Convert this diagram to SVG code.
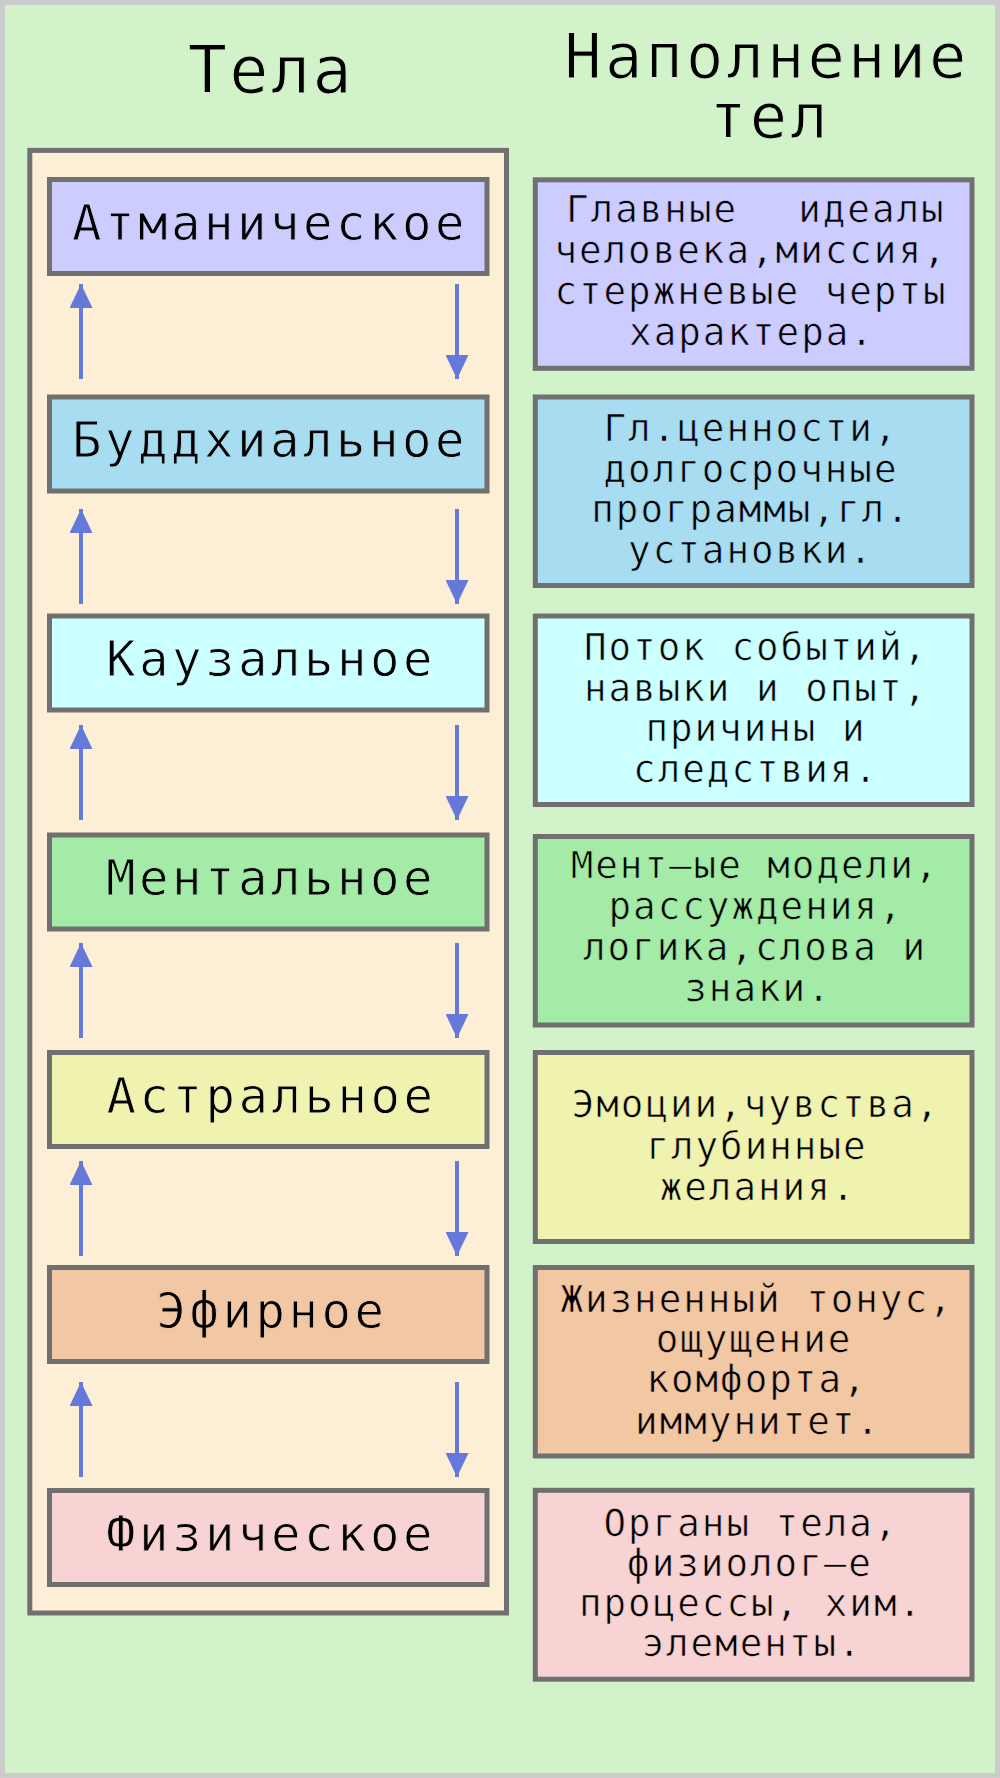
<svg xmlns="http://www.w3.org/2000/svg" width="1000" height="1778" viewBox="0 0 1000 1778">
<defs>
<style>
.box{stroke:#707070;stroke-width:5}
.lt{font-family:"DejaVu Sans Mono",monospace;font-size:49px;letter-spacing:3.5px;text-anchor:middle;fill:#000;stroke-width:0.9px}
.rt{font-family:"DejaVu Sans Mono",monospace;font-size:37.5px;letter-spacing:2px;text-anchor:middle;fill:#000;stroke-width:0.7px}
.hd{font-family:"DejaVu Sans Mono",monospace;letter-spacing:2.5px;text-anchor:middle;fill:#000;stroke:#d2f2ca;stroke-width:1px}
.ar{stroke:#6479d9;stroke-width:4;fill:none}
.c1{fill:#ccccff}.c2{fill:#a8dcf0}.c3{fill:#ccffff}.c4{fill:#a3eba6}.c5{fill:#f0f2b0}.c6{fill:#f1c7a4}.c7{fill:#f8d3d3}
.g1 text{stroke:#ccccff}.g2 text{stroke:#a8dcf0}.g3 text{stroke:#ccffff}.g4 text{stroke:#a3eba6}.g5 text{stroke:#f0f2b0}.g6 text{stroke:#f1c7a4}.g7 text{stroke:#f8d3d3}
</style>
<marker id="ah" viewBox="0 0 24 23" refX="24" refY="11.5" markerWidth="24" markerHeight="23" markerUnits="userSpaceOnUse" orient="auto">
<path d="M0,0 L24,11.5 L0,23 Z" fill="#6479d9"/>
</marker>
</defs>
<rect x="2.5" y="2.5" width="995" height="1773" fill="#d2f2ca" stroke="#cccccc" stroke-width="5"/>
<g id="headers">
<text class="hd" x="271" y="92.7" font-size="65">Тела</text>
<text class="hd" x="767" y="78.3" font-size="62" style="letter-spacing:3.2px">Наполнение</text>
<text class="hd" x="770" y="138.3" font-size="62" style="letter-spacing:3.2px">тел</text>
</g>
<rect id="container" x="29.8" y="150.4" width="476.7" height="1462.6" fill="#fdeed6" stroke="#707070" stroke-width="5"/>
<g id="body-atman" class="g1"><rect class="box c1" x="49.5" y="179.5" width="437.5" height="94"/><text class="lt" x="270" y="239.5">Атманическое</text></g>
<g id="body-buddhi" class="g2"><rect class="box c2" x="49.5" y="397" width="437.5" height="94"/><text class="lt" x="270" y="457">Буддхиальное</text></g>
<g id="body-causal" class="g3"><rect class="box c3" x="49.5" y="616" width="437.5" height="94"/><text class="lt" x="271" y="676">Каузальное</text></g>
<g id="body-mental" class="g4"><rect class="box c4" x="49.5" y="835" width="437.5" height="94"/><text class="lt" x="271" y="895">Ментальное</text></g>
<g id="body-astral" class="g5"><rect class="box c5" x="49.5" y="1052.5" width="437.5" height="94"/><text class="lt" x="271.5" y="1112.5">Астральное</text></g>
<g id="body-ether" class="g6"><rect class="box c6" x="49.5" y="1267.5" width="437.5" height="94"/><text class="lt" x="272" y="1327.5">Эфирное</text></g>
<g id="body-phys" class="g7"><rect class="box c7" x="49.5" y="1490.5" width="437.5" height="94"/><text class="lt" x="271" y="1550.5">Физическое</text></g>
<g id="fill-atman" class="g1"><rect class="box c1" x="535.3" y="179.8" width="436.7" height="188.5"/>
<text class="rt" y="221.7"><tspan x="566" style="text-anchor:start">Главные</tspan><tspan x="945.7" style="text-anchor:end">идеалы</tspan></text>
<text class="rt" x="751" y="262.5">человека,миссия,</text>
<text class="rt" x="751" y="303.5">стержневые черты</text>
<text class="rt" x="752" y="345">характера.</text></g>
<g id="fill-buddhi" class="g2"><rect class="box c2" x="535.3" y="397" width="436.7" height="188.5"/>
<text class="rt" x="751" y="441">Гл.ценности,</text>
<text class="rt" x="751" y="481.5">долгосрочные</text>
<text class="rt" x="751" y="522">программы,гл.</text>
<text class="rt" x="751" y="562.5">установки.</text></g>
<g id="fill-causal" class="g3"><rect class="box c3" x="535.3" y="616" width="436.7" height="188.5"/>
<text class="rt" x="756" y="660">Поток событий,</text>
<text class="rt" x="756" y="700.5">навыки и опыт,</text>
<text class="rt" x="756" y="741">причины и</text>
<text class="rt" x="756" y="781.5">следствия.</text></g>
<g id="fill-mental" class="g4"><rect class="box c4" x="535.3" y="836.5" width="436.7" height="188.5"/>
<text class="rt" x="755" y="878.3">Мент–ые модели,</text>
<text class="rt" x="756" y="918.8">рассуждения,</text>
<text class="rt" x="755" y="959.5">логика,слова и</text>
<text class="rt" x="758" y="1000.5">знаки.</text></g>
<g id="fill-astral" class="g5"><rect class="box c5" x="535.3" y="1052.5" width="436.7" height="189"/>
<text class="rt" x="756" y="1117.3">Эмоции,чувства,</text>
<text class="rt" x="757" y="1158.8">глубинные</text>
<text class="rt" x="758" y="1200">желания.</text></g>
<g id="fill-ether" class="g6"><rect class="box c6" x="535.3" y="1267.5" width="436.7" height="188.5"/>
<text class="rt" x="757" y="1311.7">Жизненный тонус,</text>
<text class="rt" x="754" y="1351.7">ощущение</text>
<text class="rt" x="757" y="1391.5">комфорта,</text>
<text class="rt" x="758" y="1433.5">иммунитет.</text></g>
<g id="fill-phys" class="g7"><rect class="box c7" x="535.3" y="1490.3" width="436.7" height="188.9"/>
<text class="rt" x="751" y="1536">Органы тела,</text>
<text class="rt" x="750" y="1575.5">физиолог–е</text>
<text class="rt" x="751" y="1616">процессы, хим.</text>
<text class="rt" x="752" y="1656">элементы.</text></g>
<g id="connectors">
<line class="ar" x1="81" y1="379" x2="81" y2="284" marker-end="url(#ah)"/>
<line class="ar" x1="457" y1="284" x2="457" y2="379" marker-end="url(#ah)"/>
<line class="ar" x1="81" y1="604" x2="81" y2="509" marker-end="url(#ah)"/>
<line class="ar" x1="457" y1="509" x2="457" y2="604" marker-end="url(#ah)"/>
<line class="ar" x1="81" y1="820" x2="81" y2="725" marker-end="url(#ah)"/>
<line class="ar" x1="457" y1="725" x2="457" y2="820" marker-end="url(#ah)"/>
<line class="ar" x1="81" y1="1038" x2="81" y2="943" marker-end="url(#ah)"/>
<line class="ar" x1="457" y1="943" x2="457" y2="1038" marker-end="url(#ah)"/>
<line class="ar" x1="81" y1="1256" x2="81" y2="1161" marker-end="url(#ah)"/>
<line class="ar" x1="457" y1="1161" x2="457" y2="1256" marker-end="url(#ah)"/>
<line class="ar" x1="81" y1="1477" x2="81" y2="1382" marker-end="url(#ah)"/>
<line class="ar" x1="457" y1="1382" x2="457" y2="1477" marker-end="url(#ah)"/>
</g>
</svg>
